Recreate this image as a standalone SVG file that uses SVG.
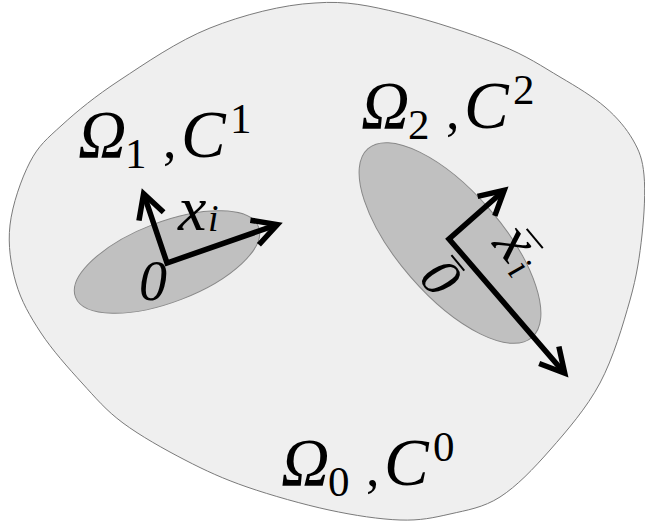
<svg xmlns="http://www.w3.org/2000/svg" width="645" height="524" viewBox="0 0 645 524">
<defs>
<style>
.lbl{font-family:"Liberation Serif","DejaVu Serif",serif;fill:#000}
.it{font-style:italic}
.big{font-size:67px}
.dig{font-size:43px}
.cm{font-size:54px}
.ax{fill:none;stroke:#000;stroke-width:5.5;stroke-linejoin:miter}
.bar{stroke:#000;stroke-width:2}
.incl{fill:#c0c0c0;stroke:#888;stroke-width:1}
</style>
<marker id="chev" markerUnits="userSpaceOnUse" markerWidth="60" markerHeight="60" refX="0" refY="0" orient="auto-start-reverse" overflow="visible">
<path d="M-24,-13 L0,0 L-24,13" fill="none" stroke="#000" stroke-width="5.5" stroke-linejoin="miter"/>
</marker>
</defs>
<rect width="645" height="524" fill="#fff"/>
<g id="matrix">
<path d="M315,3 C346.7,0.5 369.2,5.8 400,13 C430.8,20.2 473.3,34.3 500,45 C526.7,55.7 542.5,66.7 560,77 C577.5,87.3 592.8,96.5 605,107 C617.2,117.5 626.5,128.7 633,140 C639.5,151.3 642.5,159.2 644,175 C645.5,190.8 644.3,214.2 642,235 C639.7,255.8 637,275.3 630,300 C623,324.7 613.3,358 600,383 C586.7,408 566.7,431 550,450 C533.3,469 516.7,486.3 500,497 C483.3,507.7 466.7,510.2 450,514 C433.3,517.8 420.2,520.7 400,520 C379.8,519.3 354.5,515.5 329,510 C303.5,504.5 271,495.3 247,487 C223,478.7 205.7,470.7 185,460 C164.3,449.3 140.2,435.8 123,423 C105.8,410.2 95.7,398 82,383 C68.3,368 52,349.7 41,333 C30,316.3 21.2,301 16,283 C10.8,265 7.7,245.2 10,225 C12.3,204.8 21.3,178.7 30,162 C38.7,145.3 47,138.7 62,125 C77,111.3 95.3,96.2 120,80 C144.7,63.8 177.5,41 210,28 C242.5,15 283.3,4.5 315,3 Z" fill="#efefef" stroke="#7a7a7a" stroke-width="1"/>
<g class="lbl" transform="translate(203,328)">
<text class="it big" x="78" y="157">Ω</text>
<text class="dig" x="125" y="168">0</text>
<text class="cm" x="163" y="158">,</text>
<text class="it big" x="181" y="157">C</text>
<text class="dig" x="230" y="133">0</text>
</g>
</g>
<g id="inclusion1">
<ellipse class="incl" cx="167" cy="262" rx="98" ry="40" transform="rotate(-21 167 262)"/>
<g class="lbl">
<text class="it big" x="78" y="157">Ω</text>
<text class="dig" x="125" y="168">1</text>
<text class="cm" x="163" y="158">,</text>
<text class="it big" x="181" y="157">C</text>
<text class="dig" x="230" y="133">1</text>
<text class="it" font-size="64" x="178" y="230">x</text>
<text class="it" font-size="38" x="208" y="231">i</text>
<text class="it" font-size="56" x="139" y="300">0</text>
</g>
</g>
<g id="inclusion2">
<ellipse class="incl" cx="450" cy="243" rx="125" ry="52" transform="rotate(49 450 243)"/>
<g class="lbl" transform="translate(283,-29)">
<text class="it big" x="78" y="157">Ω</text>
<text class="dig" x="125" y="168">2</text>
<text class="cm" x="163" y="158">,</text>
<text class="it big" x="181" y="157">C</text>
<text class="dig" x="230" y="133">2</text>
</g>
<g class="lbl" transform="translate(441,277) rotate(50)">
<text class="it" font-size="56" x="0" y="19" text-anchor="middle">0</text>
<line class="bar" x1="-10" y1="-22" x2="10" y2="-22"/>
</g>
<g class="lbl" transform="translate(511,246) rotate(50)">
<text class="it" font-size="64" x="0" y="14" text-anchor="middle">x</text>
<text class="it" font-size="38" x="17" y="20">i</text>
<line class="bar" x1="-3" y1="-23" x2="22" y2="-23"/>
</g>
</g>
<g id="connectors">
<path class="ax" d="M143.6,193.7 L167,263 L277.3,224.6" marker-start="url(#chev)" marker-end="url(#chev)"/>
<path class="ax" d="M504.2,190.3 L449,239 L564.7,373.2" marker-start="url(#chev)" marker-end="url(#chev)"/>
</g>
</svg>
